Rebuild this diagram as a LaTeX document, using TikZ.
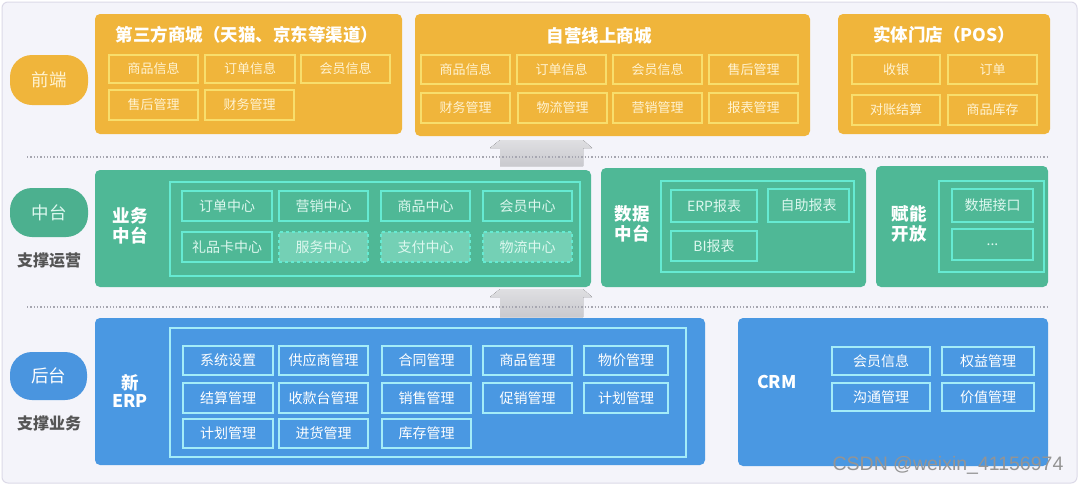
\documentclass[tikz,border=0pt]{standalone}
\usepackage{fontspec}
\setmainfont{Noto Sans CJK SC}
\newfontfamily\wmfont{Liberation Sans}
\definecolor{bgc}{HTML}{F4F4FA}
\definecolor{framec}{HTML}{DCDAE8}
\definecolor{orgc}{HTML}{F0B53B}
\definecolor{orgline}{HTML}{F8DE6C}
\definecolor{orgtext}{HTML}{FFF3D2}
\definecolor{grnc}{HTML}{4FB896}
\definecolor{grnpill}{HTML}{4CB08F}
\definecolor{grnline}{HTML}{66EAD2}
\definecolor{grntext}{HTML}{DDF8EF}
\definecolor{grnlight}{HTML}{74D0B5}
\definecolor{bluc}{HTML}{4A98E2}
\definecolor{blupill}{HTML}{4A95DF}
\definecolor{bluline}{HTML}{A4ECF8}
\definecolor{dotc}{HTML}{A6A6B0}
\definecolor{sidetext}{HTML}{555555}
\definecolor{arrc}{HTML}{C9C9CE}
\newcommand\fs[1]{\fontsize{#1}{#1}\selectfont}
\newcommand\mkbox[7]{\node[#6, minimum width={(#4-#2)*1pt}, minimum height={(#5-#3)*1pt}] (#1) at ({(#2+#4)/2},{(#3+#5)/2}) {#7};}
\tikzset{
  itemO/.style={draw=orgline, line width=1.2pt, text=orgtext, font=\fs{13}, inner sep=0pt, outer sep=0pt},
  itemG/.style={draw=grnline, line width=1.2pt, text=grntext, font=\fs{14}, inner sep=0pt, outer sep=0pt},
  itemGd/.style={itemG, fill=grnlight, dashed},
  itemB/.style={draw=bluline, line width=1.3pt, text=white, font=\fs{14}, inner sep=0pt, outer sep=0pt},
  panelO/.style={fill=orgc, rounded corners=5pt, inner sep=0pt, outer sep=0pt},
  panelG/.style={fill=grnc, rounded corners=5pt, inner sep=0pt, outer sep=0pt},
  panelB/.style={fill=bluc, rounded corners=5pt, inner sep=0pt, outer sep=0pt},
  frameG/.style={draw=grnline, line width=1.2pt, inner sep=0pt, outer sep=0pt},
  frameB/.style={draw=bluline, line width=1.3pt, inner sep=0pt, outer sep=0pt},
  pill/.style={rounded corners=22pt, inner sep=0pt, outer sep=0pt, font=\fs{17.5}},
  ttl/.style={text=white, font=\fs{17.5}\bfseries, inner sep=0pt, align=center},
  side/.style={text=sidetext, font=\fs{16}\bfseries, inner sep=0pt},
  sep/.style={dotc, line width=1.3pt, dash pattern=on 1.3pt off 2pt},
  grarrow/.style={top color=arrc!60!white, bottom color=arrc, draw=none}
}
\begin{document}
\begin{tikzpicture}[x=1pt,y=-1pt]
\useasboundingbox (0,0) rectangle (1080,485);
\fill[white] (0,0) rectangle (1080,485);
\draw[framec, fill=bgc, line width=1pt, rounded corners=6pt] (2,2) rectangle (1077,483);

% ---------- gray arrows ----------
\fill[grarrow] (500,140) -- (583,140) -- (592,148) -- (583,148) -- (583,166) -- (500,166) -- (500,148) -- (490,148) -- cycle;
\fill[grarrow] (500,289) -- (583,289) -- (592,297) -- (583,297) -- (583,317) -- (500,317) -- (500,297) -- (490,297) -- cycle;

% ---------- separators ----------
\coordinate (s1a) at (27,157); \coordinate (s1b) at (1047,157);
\coordinate (s2a) at (27,307); \coordinate (s2b) at (1047,307);
\draw[sep] (s1a) -- (s1b);
\draw[sep] (s2a) -- (s2b);

% ---------- front end ----------
\mkbox{pF}{10}{55}{88}{105}{pill, fill=orgc, text=orgtext}{前端}
\mkbox{tp}{95}{14}{402}{134}{panelO}{}
\node[ttl] (tpT) at (247,35) {第三方商城（天猫、京东等渠道）};
\mkbox{tp1}{109}{55}{198}{83}{itemO}{商品信息}
\mkbox{tp2}{205}{55}{295}{83}{itemO}{订单信息}
\mkbox{tp3}{301}{55}{390}{83}{itemO}{会员信息}
\mkbox{tp4}{109}{90}{198}{120}{itemO}{售后管理}
\mkbox{tp5}{205}{90}{294}{120}{itemO}{财务管理}

\mkbox{so}{415}{14}{810}{136}{panelO}{}
\node[ttl] (soT) at (599,36) {自营线上商城};
\mkbox{so1}{421}{55}{510}{84}{itemO}{商品信息}
\mkbox{so2}{517}{55}{606}{84}{itemO}{订单信息}
\mkbox{so3}{613}{55}{702}{84}{itemO}{会员信息}
\mkbox{so4}{709}{55}{798}{84}{itemO}{售后管理}
\mkbox{so5}{421}{93}{510}{123}{itemO}{财务管理}
\mkbox{so6}{518}{93}{607}{123}{itemO}{物流管理}
\mkbox{so7}{613}{93}{702}{123}{itemO}{营销管理}
\mkbox{so8}{709}{93}{798}{123}{itemO}{报表管理}

\mkbox{ps}{838}{14}{1050}{134}{panelO}{}
\node[ttl] (psT) at (944,35) {实体门店（POS）};
\mkbox{ps1}{852}{55}{940}{84}{itemO}{收银}
\mkbox{ps2}{948}{55}{1037}{84}{itemO}{订单}
\mkbox{ps3}{852}{95}{940}{125}{itemO}{对账结算}
\mkbox{ps4}{948}{95}{1037}{125}{itemO}{商品库存}

% ---------- middle ----------
\mkbox{pM}{10}{188}{88}{237}{pill, fill=grnpill, text=grntext}{中台}
\node[side] (sM) at (49,261) {支撑运营};

\mkbox{bm}{95}{170}{591}{287}{panelG}{}
\node[ttl] (bmT) at (130,226) {业务\\[2pt]中台};
\mkbox{bmF}{170}{182}{580}{276}{frameG}{}
\mkbox{bm1}{182}{191}{272}{221}{itemG}{订单中心}
\mkbox{bm2}{279}{191}{368}{221}{itemG}{营销中心}
\mkbox{bm3}{381}{191}{470}{221}{itemG}{商品中心}
\mkbox{bm4}{483}{191}{572}{221}{itemG}{会员中心}
\mkbox{bm5}{182}{232}{272}{262}{itemG}{礼品卡中心}
\mkbox{bm6}{279}{232}{368}{262}{itemGd}{服务中心}
\mkbox{bm7}{381}{232}{470}{262}{itemGd}{支付中心}
\mkbox{bm8}{483}{232}{572}{262}{itemGd}{物流中心}

\mkbox{dm}{601}{168}{866}{287}{panelG}{}
\node[ttl] (dmT) at (632,224) {数据\\[2pt]中台};
\mkbox{dmF}{661}{181}{854}{272}{frameG}{}
\mkbox{dm1}{671}{190}{757}{222}{itemG}{ERP报表}
\mkbox{dm2}{768}{189}{849}{222}{itemG}{自助报表}
\mkbox{dm3}{671}{231}{757}{261}{itemG}{BI报表}

\mkbox{em}{876}{166}{1048}{287}{panelG}{}
\node[ttl] (emT) at (909,224) {赋能\\[2pt]开放};
\mkbox{emF}{939}{181}{1044}{272}{frameG}{}
\mkbox{em1}{952}{189}{1033}{222}{itemG}{数据接口}
\mkbox{em2}{952}{229}{1033}{260}{itemG}{...}

% ---------- back end ----------
\mkbox{pB}{10}{352}{87}{400}{pill, fill=blupill, text=white}{后台}
\node[side] (sB) at (49,423) {支撑业务};

\mkbox{erp}{95}{318}{705}{465}{panelB}{}
\node[ttl] (erpT) at (130,391) {新\\[1pt]ERP};
\mkbox{erpF}{170}{328}{686}{457}{frameB}{}
\mkbox{e1}{183}{346}{273}{375}{itemB}{系统设置}
\mkbox{e2}{279}{346}{368}{375}{itemB}{供应商管理}
\mkbox{e3}{382}{346}{471}{375}{itemB}{合同管理}
\mkbox{e4}{483}{346}{572}{375}{itemB}{商品管理}
\mkbox{e5}{584}{346}{668}{375}{itemB}{物价管理}
\mkbox{e6}{183}{383}{273}{413}{itemB}{结算管理}
\mkbox{e7}{279}{383}{368}{413}{itemB}{收款台管理}
\mkbox{e8}{382}{383}{471}{413}{itemB}{销售管理}
\mkbox{e9}{483}{383}{572}{413}{itemB}{促销管理}
\mkbox{e10}{584}{383}{668}{413}{itemB}{计划管理}
\mkbox{e11}{183}{419}{273}{448}{itemB}{计划管理}
\mkbox{e12}{279}{419}{368}{448}{itemB}{进货管理}
\mkbox{e13}{382}{419}{471}{448}{itemB}{库存管理}

\mkbox{crm}{738}{318}{1048}{466}{panelB}{}
\node[ttl] (crmT) at (777,382) {CRM};
\mkbox{c1}{832}{347}{930}{375}{itemB}{会员信息}
\mkbox{c2}{942}{347}{1034}{375}{itemB}{权益管理}
\mkbox{c3}{832}{383}{930}{411}{itemB}{沟通管理}
\mkbox{c4}{942}{383}{1034}{411}{itemB}{价值管理}

% ---------- watermark ----------
\node[inner sep=0pt, text=black!42, font=\wmfont\fs{19.5}] (wm) at (948,465) {CSDN @weixin\_41156974};
\end{tikzpicture}
\end{document}
